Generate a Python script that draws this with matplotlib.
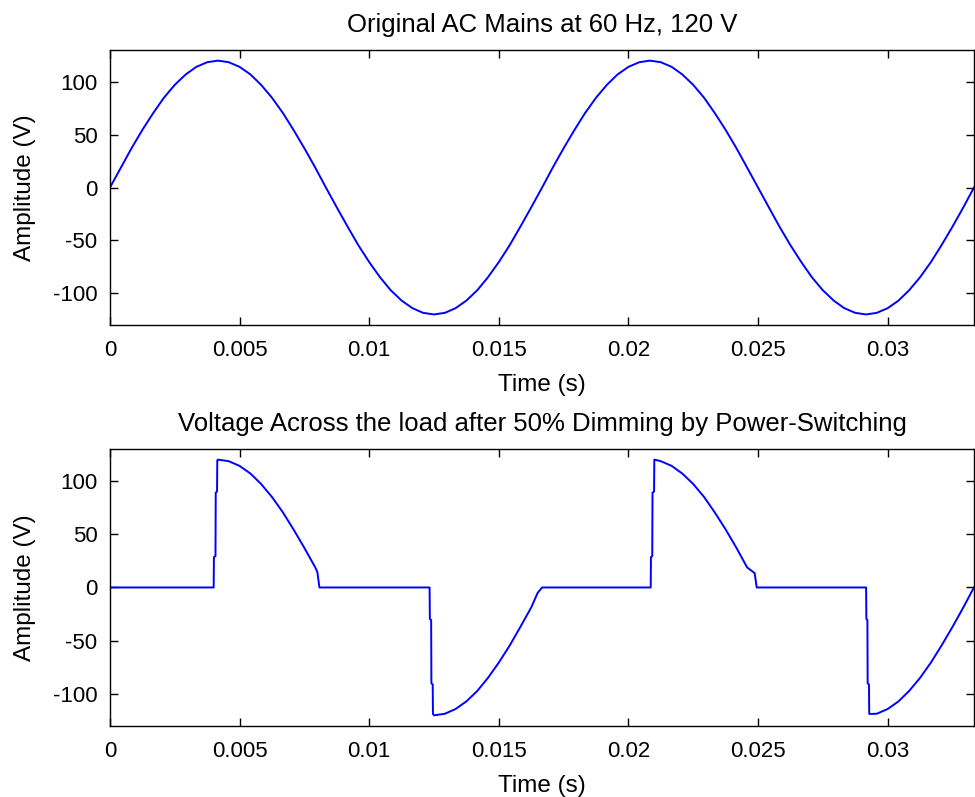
#!/usr/bin/env python3
"""AC mains waveform and the dimmed load voltage, two stacked panels."""

import matplotlib

matplotlib.use("Agg")
import matplotlib.pyplot as plt

# original mains, sampled every 1/2400 s (times in ms)
MAINS_T_MS = [
    0.0, 0.42, 0.83, 1.25, 1.67, 2.08, 2.5, 2.92, 3.33, 3.75,
    4.17, 4.58, 5.0, 5.42, 5.83, 6.25, 6.67, 7.08, 7.5, 7.92,
    8.33, 8.75, 9.17, 9.58, 10.0, 10.42, 10.83, 11.25, 11.67, 12.08,
    12.5, 12.92, 13.33, 13.75, 14.17, 14.58, 15.0, 15.42, 15.83, 16.25,
    16.67, 17.08, 17.5, 17.92, 18.33, 18.75, 19.17, 19.58, 20.0, 20.42,
    20.83, 21.25, 21.67, 22.08, 22.5, 22.92, 23.33, 23.75, 24.17, 24.58,
    25.0, 25.42, 25.83, 26.25, 26.67, 27.08, 27.5, 27.92, 28.33, 28.75,
    29.17, 29.58, 30.0, 30.42, 30.83, 31.25, 31.67, 32.08, 32.5, 32.92,
    33.33,
]
MAINS_V = [
    0.0, 18.8, 37.1, 54.5, 70.5, 84.9, 97.1, 106.9, 114.1, 118.5,
    120.0, 118.5, 114.1, 106.9, 97.1, 84.9, 70.5, 54.5, 37.1, 18.8,
    0.0, -18.8, -37.1, -54.5, -70.5, -84.9, -97.1, -106.9, -114.1, -118.5,
    -120.0, -118.5, -114.1, -106.9, -97.1, -84.9, -70.5, -54.5, -37.1, -18.8,
    0.0, 18.8, 37.1, 54.5, 70.5, 84.9, 97.1, 106.9, 114.1, 118.5,
    120.0, 118.5, 114.1, 106.9, 97.1, 84.9, 70.5, 54.5, 37.1, 18.8,
    0.0, -18.8, -37.1, -54.5, -70.5, -84.9, -97.1, -106.9, -114.1, -118.5,
    -120.0, -118.5, -114.1, -106.9, -97.1, -84.9, -70.5, -54.5, -37.1, -18.8,
    0.0,
]

# voltage across the load after switching (times in ms)
LOAD_T_MS = [
    0.0, 4.0, 4.01, 4.07, 4.08, 4.13, 4.14, 4.17, 4.58, 5.0,
    5.42, 5.83, 6.25, 6.67, 7.08, 7.5, 7.92, 8.0, 8.08, 12.33,
    12.34, 12.39, 12.40, 12.45, 12.46, 12.5, 12.92, 13.33, 13.75, 14.17,
    14.58, 15.0, 15.42, 15.83, 16.25, 16.5, 16.67, 20.86, 20.87, 20.92,
    20.93, 20.99, 21.0, 21.25, 21.67, 22.08, 22.5, 22.92, 23.33, 23.75,
    24.17, 24.58, 24.87, 24.95, 29.17, 29.18, 29.22, 29.23, 29.28, 29.29,
    29.58, 30.0, 30.42, 30.83, 31.25, 31.67, 32.08, 32.5, 32.92, 33.33,
]
LOAD_V = [
    0.0, 0.0, 28.5, 29.5, 89.0, 90.0, 119.5, 120.0, 118.5, 114.1,
    106.9, 97.1, 84.9, 70.5, 54.5, 37.1, 18.8, 14.5, 0.0, 0.0,
    -29.5, -30.5, -90.0, -91.0, -118.7, -120.0, -118.5, -114.1, -106.9, -97.1,
    -84.9, -70.5, -54.5, -37.1, -18.8, -5.0, 0.0, 0.0, 28.5, 29.5,
    89.0, 90.0, 120.0, 118.5, 114.1, 106.9, 97.1, 84.9, 70.5, 54.5,
    37.1, 18.8, 13.5, 0.0, 0.0, -29.5, -30.5, -90.0, -91.0, -118.7,
    -118.5, -114.1, -106.9, -97.1, -84.9, -70.5, -54.5, -37.1, -18.8, 0.0,
]

X_TICKS = [0, 0.005, 0.01, 0.015, 0.02, 0.025, 0.03]
X_TICK_LABELS = ["0", "0.005", "0.01", "0.015", "0.02", "0.025", "0.03"]
Y_TICKS = [-100, -50, 0, 50, 100]
TITLES = [
    "Original AC Mains at 60 Hz, 120 V",
    "Voltage Across the load after 50% Dimming by Power-Switching",
]

plt.rcParams["font.family"] = ["Liberation Sans", "DejaVu Sans"]
plt.rcParams["axes.unicode_minus"] = False

TICK_SIZE = 16
LABEL_SIZE = 17.5
TITLE_SIZE = 18.5

fig = plt.figure(figsize=(9.75, 7.97), dpi=100)
ax_top = fig.add_axes([0.1128, 0.5922, 0.8862, 0.3450])
ax_bot = fig.add_axes([0.1128, 0.0891, 0.8862, 0.3476])

series = [(MAINS_T_MS, MAINS_V), (LOAD_T_MS, LOAD_V)]

for ax, (t_ms, volts), title in zip([ax_top, ax_bot], series, TITLES):
    ax.plot([t / 1000 for t in t_ms], volts, color="#0000ff", linewidth=1.4)
    ax.set_xlim(0, 1 / 30)
    ax.set_ylim(-130, 130)
    ax.set_xticks(X_TICKS, X_TICK_LABELS)
    ax.set_yticks(Y_TICKS)
    ax.tick_params(direction="in", length=6, width=1.0, top=True, right=True,
                   labelsize=TICK_SIZE)
    ax.tick_params(axis="x", pad=11)
    ax.tick_params(axis="y", pad=9)
    for spine in ax.spines.values():
        spine.set_linewidth(1.0)
    ax.set_title(title, fontsize=TITLE_SIZE, pad=13)
    ax.set_xlabel("Time (s)", fontsize=LABEL_SIZE, labelpad=9)
    ax.set_ylabel("Amplitude (V)", fontsize=LABEL_SIZE, labelpad=12)

fig.savefig("out.png", dpi=100)
